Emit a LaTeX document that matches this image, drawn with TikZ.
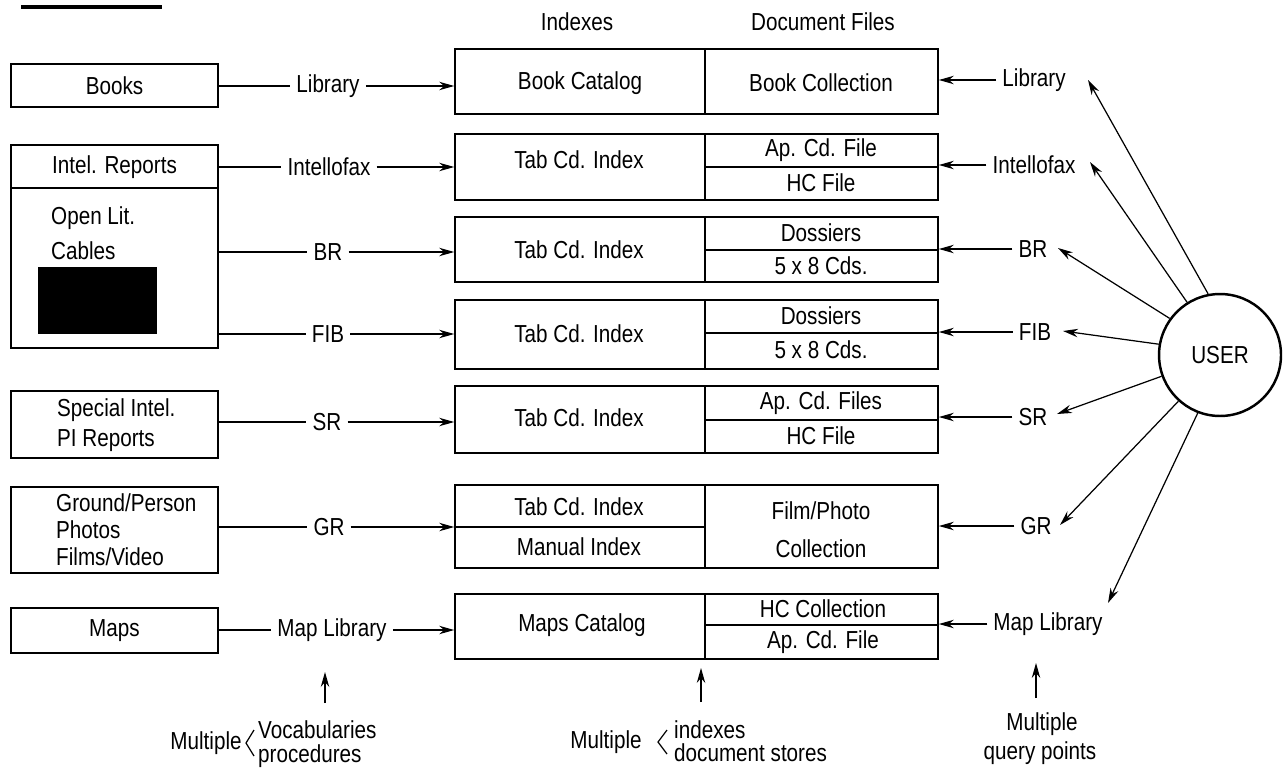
\documentclass[tikz,border=0pt]{standalone}
\usepackage{fontspec}
\setmainfont{Liberation Sans}[FakeStretch=0.84]
\usetikzlibrary{arrows.meta, positioning, calc}

\tikzset{
  srcbox/.style={draw, line width=1pt, minimum width=4.14cm, inner sep=0pt},
  idxbox/.style={draw, line width=1pt, minimum width=9.66cm, inner sep=0pt},
  rule/.style={line width=1pt},
  wire/.style={line width=0.7pt},
  feed/.style={line width=0.7pt, -{Stealth[length=8.5pt, width=4.8pt]}},
}

\begin{document}
\begin{tikzpicture}[x=0.02cm, y=-0.02cm, font=\fontsize{14}{16}\selectfont,
    every node/.append style={inner ysep=1pt}]
    \useasboundingbox (0,0) rectangle (1283,770);
    \draw[line width=1.8pt] (21,7) -- (162,7);

    % column heads
    \node (hidx) at (577,22) {Indexes};
    \node (hdoc) at (823,22) {Document Files};

    % sources
    \node[srcbox, minimum height=0.86cm] (books) at (114.5,85.5) {Books};
    \node[srcbox, minimum height=4.06cm] (intel) at (114.5,246.5) {};
    \draw[rule] (11,188) -- (218,188);
    \node (intelrep) at (114.5,167) {Intel. Reports};
    \node[anchor=west] (openlit) at (45,218) {Open Lit.};
    \node[anchor=west] (cables) at (45,251) {Cables};
    \fill (38,267) rectangle (157,334);
    \node[srcbox, minimum height=1.34cm] (special) at (114.5,424.5) {};
    \node[anchor=west] (spint) at (51,410) {Special Intel.};
    \node[anchor=west] (pirep) at (51,441) {PI Reports};
    \node[srcbox, minimum height=1.72cm] (ground) at (114.5,530) {};
    \node[anchor=west] (grpers) at (50,503) {Ground/Person};
    \node[anchor=west] (photos) at (50,530) {Photos};
    \node[anchor=west] (films) at (50,557) {Films/Video};
    \node[srcbox, minimum height=0.9cm] (maps) at (114.5,630.5) {Maps};

    % indexes and document files
    \node[idxbox, minimum height=1.3cm] (c1) at (696.5,81.5) {};
    \node[idxbox, minimum height=1.32cm] (c2) at (696.5,167) {};
    \node[idxbox, minimum height=1.3cm] (c3) at (696.5,249.5) {};
    \node[idxbox, minimum height=1.38cm] (c4) at (696.5,334.5) {};
    \node[idxbox, minimum height=1.34cm] (c5) at (696.5,419.5) {};
    \node[idxbox, minimum height=1.66cm] (c6) at (696.5,526.5) {};
    \node[idxbox, minimum height=1.3cm] (c7) at (696.5,626.5) {};
    \foreach \n in {1,...,7}
        \draw[rule] (c\n.north -| 705,0) -- (c\n.south -| 705,0);
    \foreach \y in {167,250,333,420,625}
        \draw[rule] (705,\y) -- (938,\y);
    \draw[rule] (455,527) -- (705,527);

    \node (bcat) at (580,83) {Book Catalog};
    \node (bcol) at (821,83) {Book Collection};
    \node (tab2) at (579,160) {Tab Cd. Index};
    \node (apcd2) at (821,150) {Ap. Cd. File};
    \node (hc2) at (821,183) {HC File};
    \node (tab3) at (579,250) {Tab Cd. Index};
    \node (dos3) at (821,233) {Dossiers};
    \node (cds3) at (821,266) {5 x 8 Cds.};
    \node (tab4) at (579,334) {Tab Cd. Index};
    \node (dos4) at (821,316) {Dossiers};
    \node (cds4) at (821,350) {5 x 8 Cds.};
    \node (tab5) at (579,418) {Tab Cd. Index};
    \node (apcd5) at (821,403) {Ap. Cd. Files};
    \node (hc5) at (821,436) {HC File};
    \node (tab6) at (579,507) {Tab Cd. Index};
    \node (man6) at (579,547) {Manual Index};
    \node (film6) at (821,511) {Film/Photo};
    \node (coll6) at (821,549) {Collection};
    \node (mcat) at (582,625) {Maps Catalog};
    \node (hccol) at (823,609) {HC Collection};
    \node (apcd7) at (823,642) {Ap. Cd. File};

    % feeds from the sources
    \foreach \n/\x/\y/\t/\s in {1/328/86/Library/books, 2/329/167/Intellofax/intel,
        3/328/252/BR/intel, 4/328/334/FIB/intel, 5/327/422/SR/special,
        6/329/527/GR/ground, 7/332/630/Map Library/maps} {
        \node (l\n) at (\x,\y) {\t};
        \draw[wire] (l\n.west -| \s.east) -- (l\n.west);
        \draw[feed] (l\n.east) -- (l\n.east -| c\n.west);
    }

    % user queries
    \node[circle, draw, line width=1.4pt, minimum size=2.44cm, inner sep=0pt] (user) at (1220,355) {USER};
    \foreach \n/\x/\y/\t/\a/\tx/\ty in {1/1034/80/Library/101/1088/80,
        2/1034/165/Intellofax/122/1090/162, 3/1033/249/BR/144/1058/248,
        4/1035/332/FIB/170/1063/331, 5/1033/417/SR/200/1057/414,
        6/1036/526/GR/228/1060/525, 7/1048/624/Map Library/249/1108/603} {
        \node (r\n) at (\x,\y) {\t};
        \draw[feed] (r\n.west) -- (r\n.west -| c\n.east);
        \coordinate (q\n) at (\tx,\ty);
        \draw[feed] (user.\a) -- (q\n);
    }

    % notes
    \coordinate (uL) at (325,672);
    \coordinate (bL) at (325,703);
    \draw[feed] (bL) -- (uL);
    \node (multL) at (206,743) {Multiple};
    \draw[wire] (254,730) -- (246,743) -- (254,756);
    \node[anchor=west, inner ysep=0pt] (vocab) at (252,730) {Vocabularies};
    \node[anchor=west, inner ysep=0pt] (proc) at (252,756) {procedures};

    \coordinate (uM) at (701,668);
    \coordinate (bM) at (701,702);
    \draw[feed] (bM) -- (uM);
    \node (multM) at (606,742) {Multiple};
    \draw[wire] (667,730) -- (658,742) -- (667,754);
    \node[anchor=west] (idxs) at (668,730) {indexes};
    \node[anchor=west] (stores) at (668,753) {document stores};

    \coordinate (uR) at (1036,663);
    \coordinate (bR) at (1036,698);
    \draw[feed] (bR) -- (uR);
    \node (multR) at (1042,724) {Multiple};
    \node (query) at (1040,753) {query points};
\end{tikzpicture}
\end{document}
